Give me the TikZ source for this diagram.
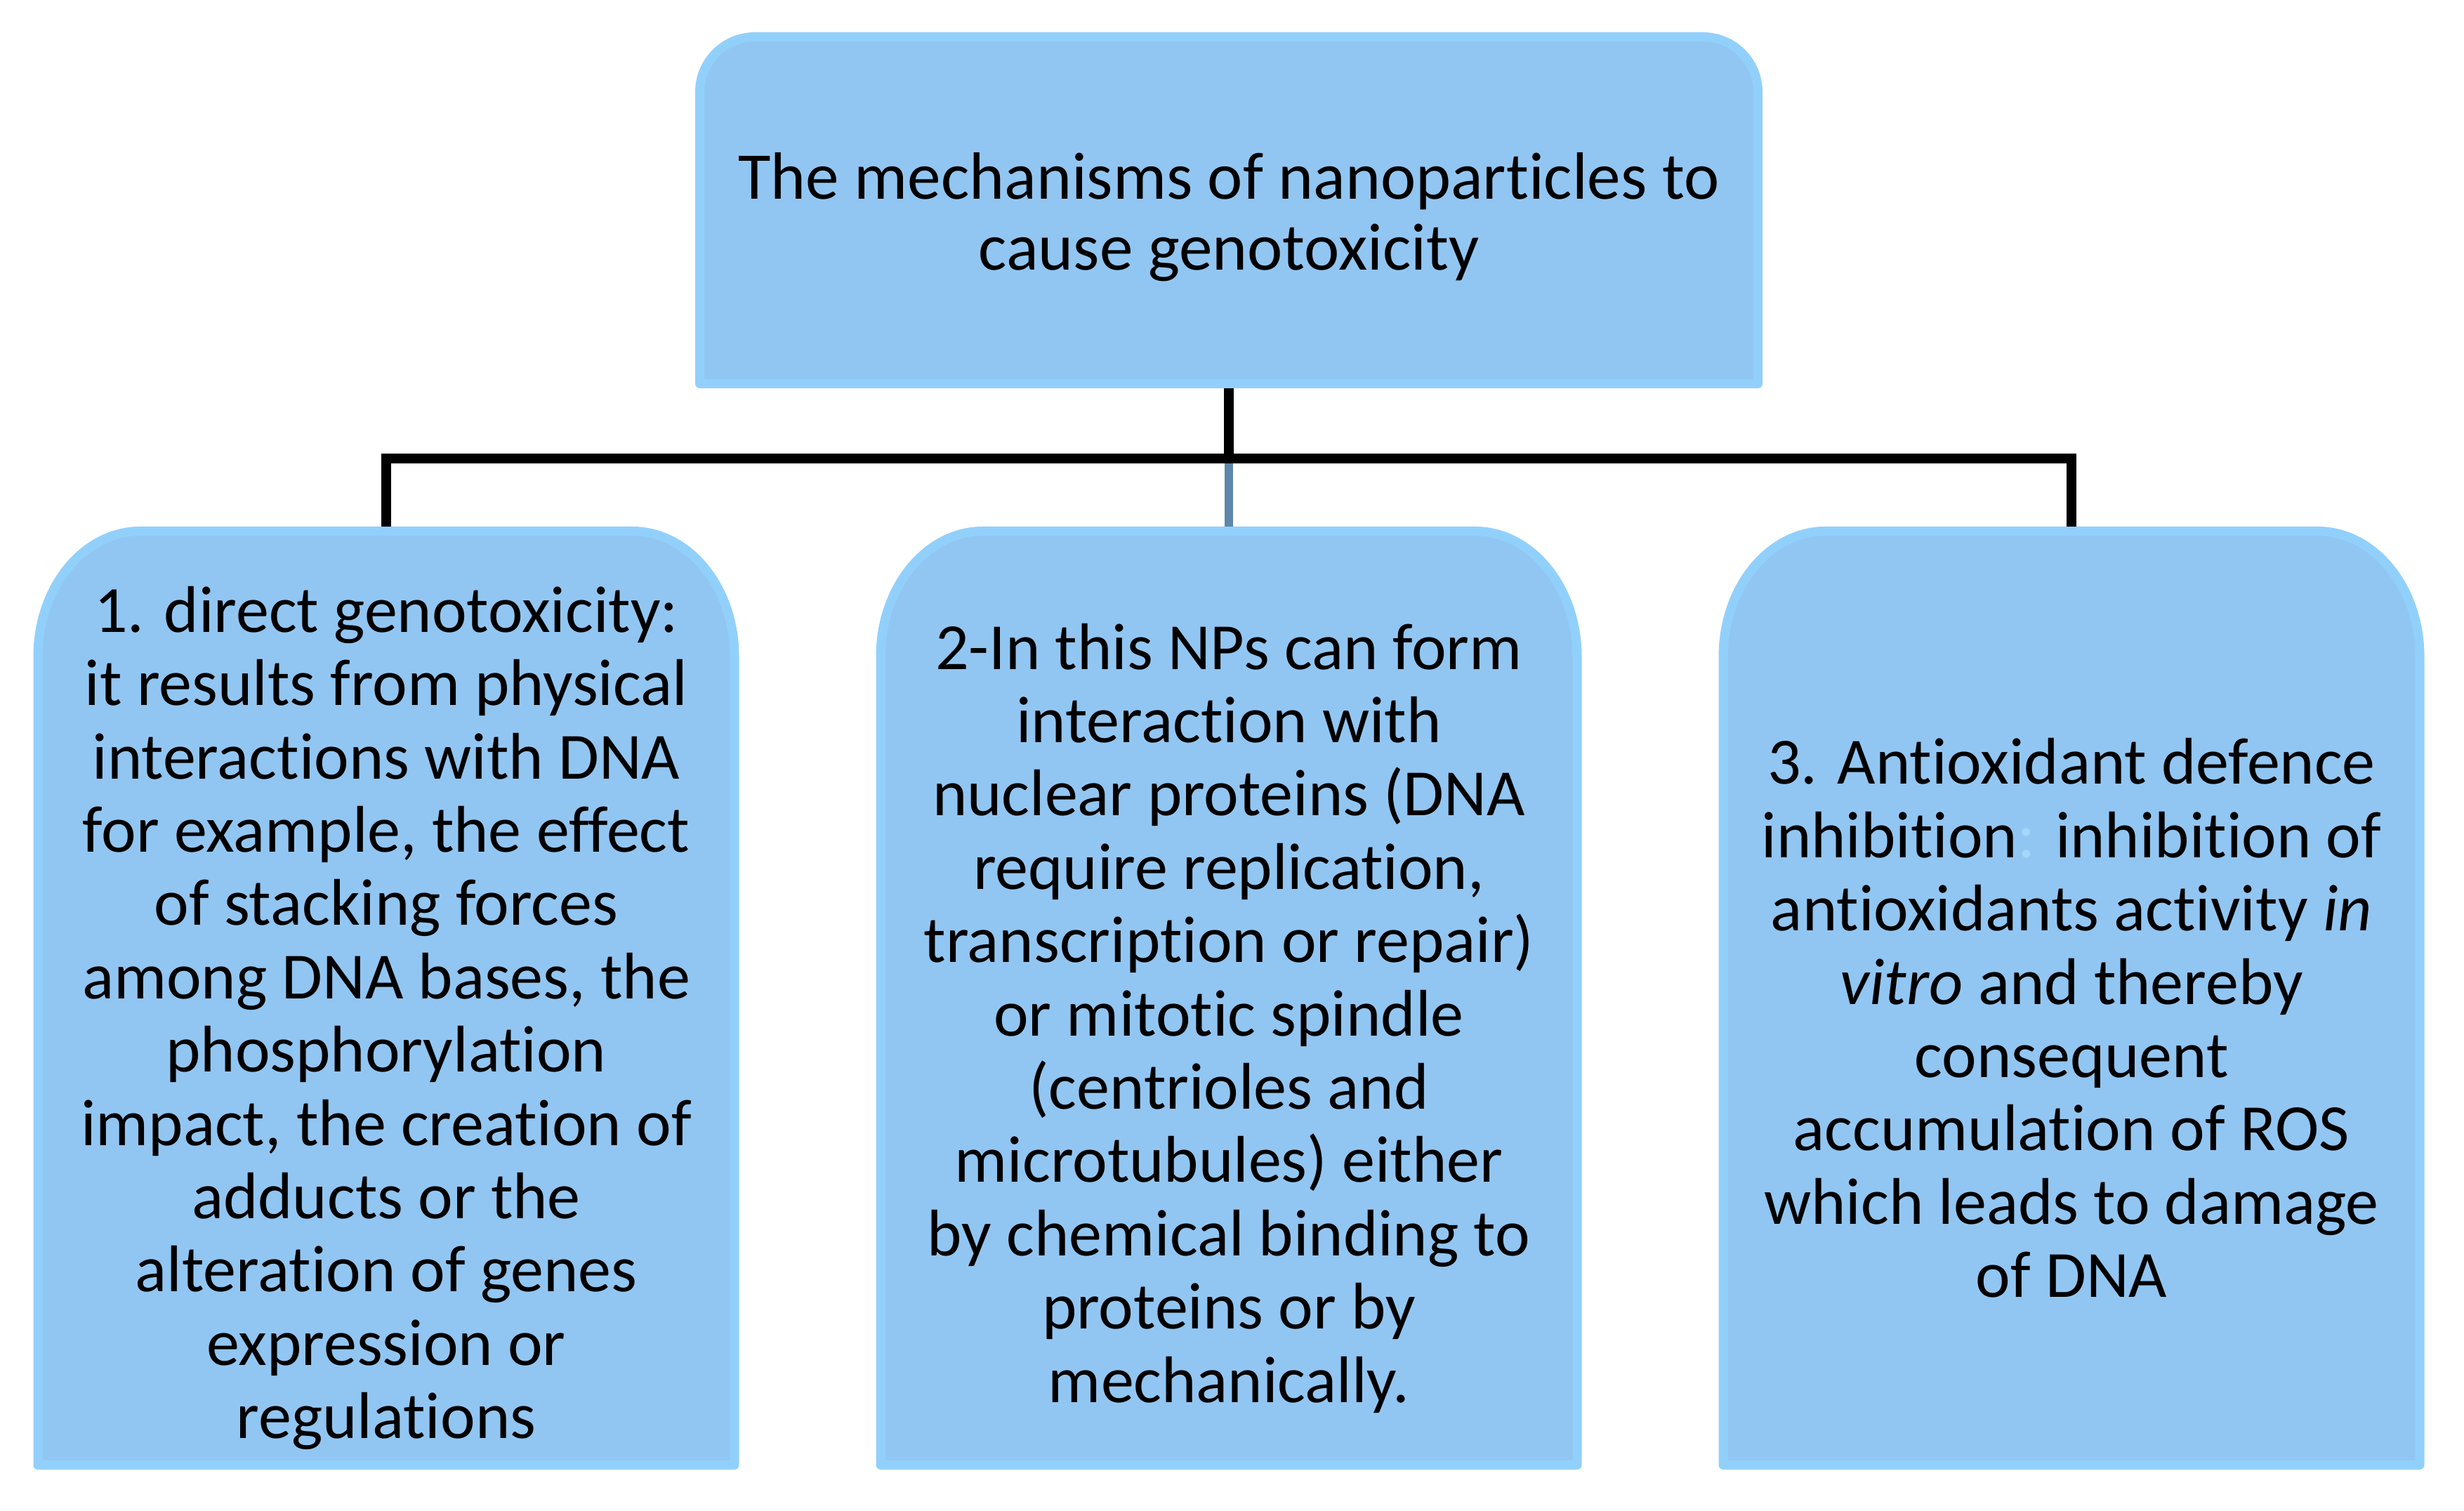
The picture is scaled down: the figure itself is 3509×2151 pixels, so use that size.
\documentclass[tikz,border=0pt]{standalone}
\usepackage{fontspec}
\setmainfont{Carlito}[Ligatures={NoCommon}]
\definecolor{boxfill}{RGB}{146,198,242}
\definecolor{boxedge}{RGB}{146,208,252}
\definecolor{midline}{RGB}{95,135,170}
\definecolor{fadecolon}{RGB}{165,215,250}
\tikzset{
  frame/.style={draw=none,fill=none,inner sep=0pt,outer sep=0pt},
  lowbox/.style={frame,minimum width=251.25pt,minimum height=335.75pt},
  topbox/.style={frame,minimum width=380pt,minimum height=126.75pt},
  shapefill/.style={fill=boxfill,draw=boxedge,line width=3.25pt,line join=round},
  boxtext/.style={align=center,inner sep=0pt,font=\fontsize{23.5}{26.1}\selectfont},
  toptext/.style={align=center,inner sep=0pt,font=\fontsize{23.8}{25.3}\selectfont},
  conn/.style={draw=black,line width=3.5pt,line join=miter,line cap=butt},
  midconn/.style={draw=midline,line width=3pt,line cap=butt},
}
% rounded-top shape behind a named frame node: #1 name, #2 x radius, #3 y radius (px)
\newcommand\roundtopshape[3]{%
  \path[shapefill]
    ([shift={(6.5,6.5)}]#1.south west)
    -- ([shift={(6.5,-#3)}]#1.north west)
    arc[start angle=180,end angle=90,x radius={(#2-6.5)*0.25pt},y radius={(#3-6.5)*0.25pt}]
    -- ([shift={(-#2,-6.5)}]#1.north east)
    arc[start angle=90,end angle=0,x radius={(#2-6.5)*0.25pt},y radius={(#3-6.5)*0.25pt}]
    -- ([shift={(-6.5,6.5)}]#1.south east)
    -- cycle;}
\begin{document}
\begin{tikzpicture}[x=0.25pt,y=0.25pt]
\useasboundingbox (0,0) rectangle (3509,2151);
\fill[white] (0,0) rectangle (3509,2151);

\node[topbox] (top) at (1750,1851.5) {};
\node[lowbox] (b1) at (550,729.5) {};
\node[lowbox] (b2) at (1750,729.5) {};
\node[lowbox] (b3) at (2950,729.5) {};

\roundtopshape{top}{85}{85}
\roundtopshape{b1}{152}{185}
\roundtopshape{b2}{152}{185}
\roundtopshape{b3}{152}{185}

\coordinate (j) at (1750,1498);
\draw[conn] (top.south) -- (j);
\draw[conn] (b1.north) -- (b1.north |- j) -- (b3.north |- j) -- (b3.north);
\draw[midconn] ([yshift=-1.75pt]j) -- (b2.north);

\node[toptext] (ttop) at (1750,1842) {The mechanisms of nanoparticles to\\cause genotoxicity};

\node[boxtext] (t1) at (550,701) {1. direct genotoxicity:\\
it results from physical\\
interactions with DNA\\
for example, the effect\\
of stacking forces\\
among DNA bases, the\\
phosphorylation\\
impact, the creation of\\
adducts or the\\
alteration of genes\\
expression or\\
regulations};

\node[boxtext] (t2) at (1750,701) {2-In this NPs can form\\
interaction with\\
nuclear proteins (DNA\\
require replication,\\
transcription or repair)\\
or mitotic spindle\\
(centrioles and\\
microtubules) either\\
by chemical binding to\\
proteins or by\\
mechanically.};

\node[boxtext] (t3) at (2950,701) {3. Antioxidant defence\\
inhibition{\color{fadecolon}:} inhibition of\\
antioxidants activity \textit{in}\\
\textit{vitro} and thereby\\
consequent\\
accumulation of ROS\\
which leads to damage\\
of DNA};
\end{tikzpicture}
\end{document}
